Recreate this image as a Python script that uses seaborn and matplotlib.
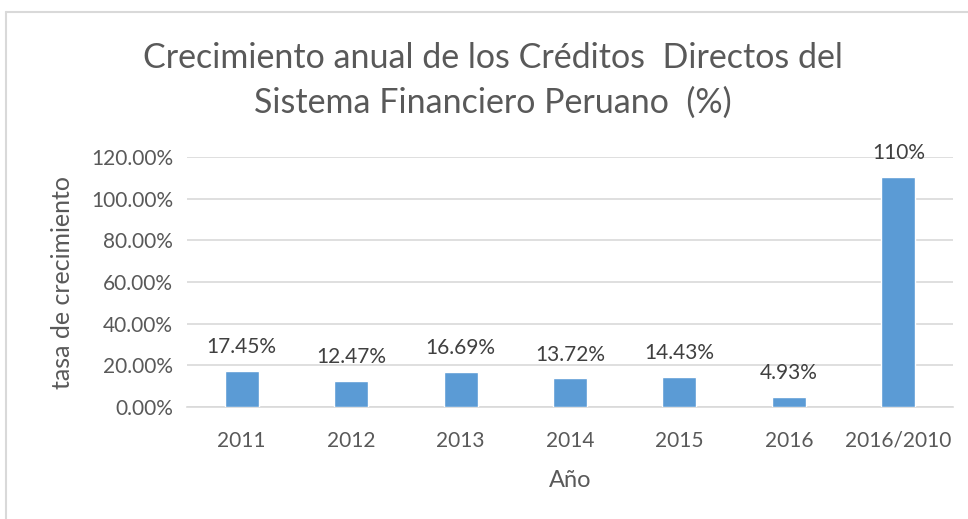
import numpy as np
import pandas as pd
import seaborn as sns
import matplotlib.pyplot as plt
from matplotlib.lines import Line2D
from matplotlib.ticker import PercentFormatter

sns.set_style("white")
plt.rcParams['font.family'] = ['Lato', 'DejaVu Sans']

# datos
anios = ["2011", "2012", "2013", "2014", "2015", "2016", "2016/2010"]
tasas = [17.45, 12.47, 16.69, 13.72, 14.43, 4.93, 110.6]
etiquetas = ["17.45%", "12.47%", "16.69%", "13.72%", "14.43%", "4.93%", "110%"]

df = pd.DataFrame({"Año": anios, "tasa": tasas})

gris = "#595959"
fig = plt.figure(figsize=(9.68, 5.19), dpi=100)
ax = fig.add_axes([187 / 968, 1 - 407 / 519, (953 - 187) / 968, 250 / 519])

sns.barplot(data=df, x="Año", y="tasa", color="#5B9BD5", width=0.31,
            saturation=1, ax=ax, zorder=3)

ax.set_ylim(0, 120)
ax.set_xlim(-0.5, 6.5)
ax.set_yticks(np.arange(0, 121, 20))
ax.yaxis.set_major_formatter(PercentFormatter(decimals=2))
ax.grid(axis="y", color="#D9D9D9", linewidth=1.2, zorder=0)
for s in ["top", "right", "left"]:
    ax.spines[s].set_visible(False)
ax.spines["bottom"].set_color("#D9D9D9")
ax.spines["bottom"].set_linewidth(1.2)
ax.tick_params(axis="both", length=0, labelsize=15, colors=gris, pad=10)
ax.tick_params(axis="x", pad=17)

for i, (v, t) in enumerate(zip(tasas, etiquetas)):
    ax.annotate(t, (i, v), xytext=(0, 10), textcoords="offset points",
                ha="center", va="bottom", fontsize=15, color="#404040")

ax.set_xlabel("Año", fontsize=17, color=gris, labelpad=14)
ax.set_ylabel("tasa de crecimiento", fontsize=18, color=gris, labelpad=12)

xc = 493 / 968
fig.text(xc, 1 - 58 / 519, "Crecimiento anual de los Créditos  Directos del",
         ha="center", va="center", fontsize=24.5, color=gris)
fig.text(xc, 1 - 103 / 519, "Sistema Financiero Peruano  (%)",
         ha="center", va="center", fontsize=24.5, color=gris)

# marco
fig.add_artist(Line2D([6 / 968, 6 / 968], [0, 1 - 12 / 519], color="#D9D9D9", lw=1.5))
fig.add_artist(Line2D([6 / 968, 1], [1 - 12 / 519, 1 - 12 / 519], color="#D9D9D9", lw=1.5))

fig.savefig("out.png", dpi=100)
